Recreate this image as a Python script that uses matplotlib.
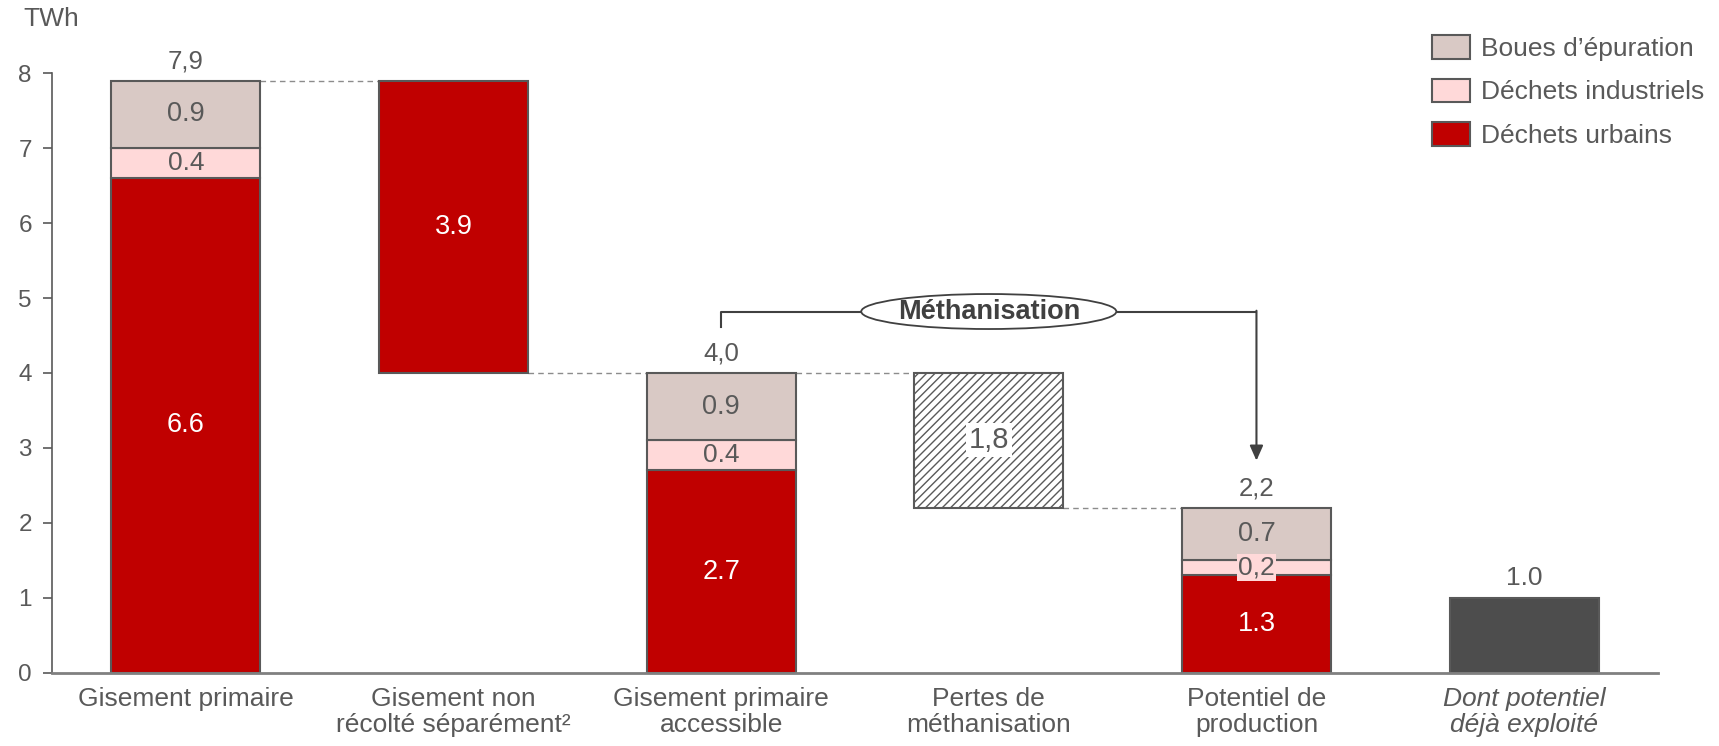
import matplotlib.pyplot as plt
from matplotlib.patches import Patch, Ellipse

plt.rcParams["font.family"] = ["Liberation Sans", "DejaVu Sans"]
plt.rcParams["hatch.linewidth"] = 1.0
plt.rcParams["hatch.color"] = "#6b6b6b"

categories = ["Gisement primaire", "Gisement non\nrécolté séparément²",
              "Gisement primaire\naccessible", "Pertes de\nméthanisation",
              "Potentiel de\nproduction", "Dont potentiel\ndéjà exploité"]

# stacked bars: primary, accessible, production potential
stack_pos = [0, 2, 4]
urbains = [6.6, 2.7, 1.3]
industriels = [0.4, 0.4, 0.2]
boues = [0.9, 0.9, 0.7]
totals = [7.9, 4.0, 2.2]

# floating bars
non_recolte = 3.9
pertes = 1.8
deja_exploite = 1.0

RED = "#C00000"
PINK = "#FFD9D9"
BEIGE = "#D9C9C5"
DARK = "#4D4D4D"
EDGE = "#595959"
TXT = "#595959"
W = 0.557
FS = 19

fig = plt.figure(figsize=(17.19, 7.46), dpi=100)
ax = fig.add_axes([0.0302, 0.0983, 0.9343, 0.8035])

def fmt(v, sep="."):
    return f"{v:.1f}".replace(".", sep)

for i, x in enumerate(stack_pos):
    u, ind, b = urbains[i], industriels[i], boues[i]
    ax.bar(x, u, W, color=RED, edgecolor=EDGE, lw=1.5)
    ax.bar(x, ind, W, bottom=u, color=PINK, edgecolor=EDGE, lw=1.5)
    ax.bar(x, b, W, bottom=u + ind, color=BEIGE, edgecolor=EDGE, lw=1.5)
    ax.text(x, u / 2, fmt(u), color="white", ha="center", va="center", fontsize=19.5)
    if ind < 0.3:
        ax.text(x, u + ind / 2, fmt(ind, ","), color=TXT, ha="center", va="center",
                fontsize=19, bbox=dict(boxstyle="square,pad=0.05", fc=PINK, ec="none"))
    else:
        ax.text(x, u + ind / 2, fmt(ind), color=TXT, ha="center", va="center",
                fontsize=19)
    ax.text(x, u + ind + b / 2, fmt(b), color=TXT, ha="center", va="center",
            fontsize=19.5)
    ax.text(x, totals[i] + 0.1, fmt(totals[i], ","), color=TXT, ha="center",
            va="bottom", fontsize=18.5)

# non-collected part
nr_bottom = totals[0] - non_recolte
ax.bar(1, non_recolte, W, bottom=nr_bottom, color=RED, edgecolor=EDGE, lw=1.5)
ax.text(1, nr_bottom + non_recolte / 2, fmt(non_recolte), color="white",
        ha="center", va="center", fontsize=19.5)

# methanisation losses
p_bottom = totals[1] - pertes
ax.bar(3, pertes, W, bottom=p_bottom, color="white", edgecolor=EDGE, lw=1.5,
       hatch="////")
ax.text(3, p_bottom + pertes / 2, fmt(pertes, ","), color=TXT, ha="center",
        va="center", fontsize=21,
        bbox=dict(boxstyle="square,pad=0.1", fc="white", ec="none"))

# already exploited
ax.bar(5, deja_exploite, W, color=DARK, edgecolor=EDGE, lw=1.5)
ax.text(5, deja_exploite + 0.1, fmt(deja_exploite), color=TXT, ha="center",
        va="bottom", fontsize=19)

# dashed connectors between steps
levels = [totals[0], nr_bottom, totals[1], p_bottom]
for i, lv in enumerate(levels):
    ax.plot([i + W / 2, i + 1 - W / 2], [lv, lv], color="#8c8c8c", lw=1,
            ls=(0, (4, 3)), zorder=0)

# Méthanisation bracket
yb = 4.82
ell_w, ell_h = 0.953, 0.467
ax.plot([2, 2, 3 - ell_w / 2], [4.62, yb, yb], color="#404040", lw=1.5,
        clip_on=False)
ax.plot([3 + ell_w / 2, 4], [yb, yb], color="#404040", lw=1.5, clip_on=False)
ax.annotate("", xy=(4, 2.83), xytext=(4, yb + 0.011),
            arrowprops=dict(arrowstyle="-|>,head_length=0.9,head_width=0.4",
                            color="#404040", lw=1.5, shrinkA=0, shrinkB=0))
ax.add_patch(Ellipse((3, yb), ell_w, ell_h, fc="white", ec="#404040", lw=1.3,
                     clip_on=False, zorder=3))
ax.text(3, yb, "Méthanisation", ha="center", va="center", fontsize=19.5,
        fontweight="bold", color="#404040", zorder=4)

ax.set_xlim(-0.5, 5.5)
ax.set_ylim(0, 8)
ax.set_yticks(range(0, 9))
ax.set_xticks(range(len(categories)))
ax.set_xticklabels(categories, fontsize=FS, color=TXT, linespacing=1.13)
ax.get_xticklabels()[5].set_style("italic")
ax.tick_params(axis="x", length=0, pad=10)
ax.tick_params(axis="y", labelsize=17.5, colors=TXT, length=6.5, width=1.2,
               color=EDGE, pad=8)
for s in ["top", "right"]:
    ax.spines[s].set_visible(False)
ax.spines["left"].set_color(EDGE)
ax.spines["bottom"].set_color("#808080")
ax.spines["left"].set_linewidth(1.2)
ax.spines["bottom"].set_linewidth(2)

fig.text(0.0134, 0.99, "TWh", fontsize=FS, color=TXT, va="top")

handles = [Patch(fc=BEIGE, ec=EDGE, lw=1.5, label="Boues d’épuration"),
           Patch(fc=PINK, ec=EDGE, lw=1.5, label="Déchets industriels"),
           Patch(fc=RED, ec=EDGE, lw=1.5, label="Déchets urbains")]
fig.legend(handles=handles, loc="upper left", bbox_to_anchor=(0.833, 0.953),
           frameon=False, fontsize=FS, handlelength=1.45, handleheight=1.0,
           labelspacing=0.67, handletextpad=0.4, borderpad=0, borderaxespad=0,
           labelcolor=TXT)

fig.savefig("out.png", dpi=100)
